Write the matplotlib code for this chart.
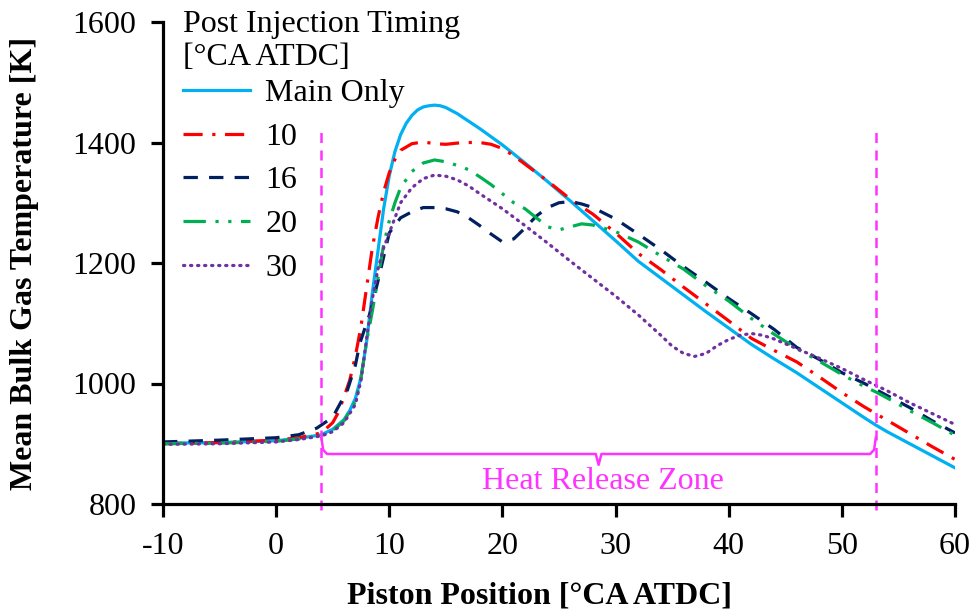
import matplotlib
matplotlib.use("Agg")
import matplotlib.pyplot as plt

plt.rcParams['font.family'] = ['Liberation Serif', 'DejaVu Serif']
plt.rcParams['axes.unicode_minus'] = False

# crank angle [deg ATDC] and mean bulk gas temperature [K]
main_x = [-10, -5, 0, 2, 4, 5, 6, 6.5, 7, 7.5, 8, 8.5, 9, 9.5, 10, 10.5, 11, 11.5, 12, 12.5, 13, 13.5, 14,
          14.5, 15, 16, 18, 20, 22, 24, 26, 28, 30, 32, 34, 36, 38, 40, 42, 44, 46, 48, 50, 52, 53, 54,
          56, 58, 60]
main_t = [901, 902, 905, 909, 915, 924, 940, 955, 975, 1010, 1070, 1150, 1220, 1290, 1345, 1385, 1413, 1432,
          1445, 1454, 1459, 1461, 1462, 1461, 1458, 1448, 1423, 1396, 1366, 1335, 1303, 1270, 1237, 1203,
          1175, 1147, 1119, 1092, 1065, 1041, 1018, 993, 968, 943, 931, 920, 900, 880, 860]

p10_x = [-10, -5, 0, 2, 4, 5, 5.5, 6, 6.5, 7, 7.5, 8, 8.5, 9, 9.5, 10, 10.5, 11, 12, 13, 14, 15, 16, 17,
         18, 19, 20, 21, 22, 24, 26, 28, 30, 32, 34, 36, 38, 40, 42, 44, 46, 48, 50, 52, 53, 54, 56, 58, 60]
p10_t = [900, 902, 906, 910, 918, 935, 952, 978, 1005, 1045, 1095, 1160, 1225, 1275, 1318, 1350, 1372, 1387,
         1398, 1401, 1398, 1397, 1399, 1400, 1400, 1397, 1390, 1378, 1364, 1336, 1306, 1281, 1250, 1216,
         1189, 1160, 1132, 1104, 1075, 1055, 1036, 1011, 985, 961, 950, 939, 917, 895, 874]

p16_x = [-10, -5, 0, 2, 3.6, 5, 6.3, 7, 7.4, 8.3, 9, 10, 11, 12, 13, 14, 15, 16, 17, 18, 19, 20, 21, 22,
         23, 24, 25, 26, 27, 28, 30, 32, 34, 36, 38, 40, 42, 44, 46, 48, 50, 52, 53, 54, 56, 58, 60]
p16_t = [903, 906, 910, 915, 926, 944, 989, 1030, 1067, 1117, 1170, 1250, 1275, 1285, 1292, 1292, 1290,
         1285, 1275, 1262, 1248, 1235, 1240, 1258, 1278, 1292, 1300, 1302, 1298, 1292, 1273, 1248, 1222,
         1194, 1168, 1141, 1116, 1090, 1060, 1040, 1018, 1000, 990, 980, 960, 938, 918]

p20_x = [-10, -5, 0, 2, 4, 5, 6, 7, 7.5, 8, 8.5, 9, 9.5, 10, 10.5, 11, 12, 13, 14, 15, 16, 17, 18, 19,
         20, 21, 22, 23, 24, 25, 26, 27, 28, 30, 32, 34, 36, 38, 40, 42, 44, 46, 48, 50, 52, 53, 54, 56, 58, 60]
p20_t = [900, 901, 904, 908, 914, 922, 938, 970, 1010, 1070, 1120, 1175, 1230, 1270, 1300, 1325, 1352,
         1366, 1371, 1368, 1362, 1355, 1343, 1330, 1315, 1300, 1290, 1275, 1260, 1255, 1260, 1265, 1263,
         1252, 1235, 1212, 1190, 1162, 1137, 1108, 1082, 1058, 1037, 1015, 995, 986, 976, 955, 935, 914]

p30_x = [-10, -5, 0, 2, 4, 5, 6, 7, 7.5, 8, 8.5, 9, 9.5, 10, 10.5, 11, 12, 13, 14, 15, 16, 17, 18, 20,
         22, 24, 26, 28, 30, 32, 34, 35, 36, 37, 38, 39, 40, 41, 42, 43, 44, 46, 48, 50, 52, 53, 54, 56, 58, 60]
p30_t = [899, 900, 903, 907, 913, 920, 935, 965, 1005, 1075, 1140, 1190, 1225, 1250, 1275, 1300, 1325,
         1340, 1346, 1344, 1338, 1328, 1315, 1290, 1262, 1233, 1203, 1174, 1145, 1114, 1080, 1062, 1050,
         1045, 1050, 1063, 1073, 1080, 1083, 1080, 1074, 1058, 1042, 1025, 1006, 997, 988, 968, 950, 932]

labels = ['Main Only', '10', '16', '20', '30']

# heat release zone markers
zone_start, zone_end = 4, 53
zone_top = 1425
brace_t = 883
magenta = '#FF33FF'
fs = 23

fig = plt.figure(figsize=(9.74, 6.11), dpi=100)
ax = fig.add_axes([163 / 974, 1 - 504 / 611, (955 - 163) / 974, (504 - 22) / 611])

lw = 2.3
ax.plot(main_x, main_t, color='#00B0F0', lw=lw, label=labels[0])
ax.plot(p10_x, p10_t, color='#FF0000', lw=lw, ls=(0, (6, 3, 1, 3)), label=labels[1])
ax.plot(p16_x, p16_t, color='#002060', lw=lw, ls=(0, (4.5, 3.5)), label=labels[2])
ax.plot(p20_x, p20_t, color='#00B050', lw=lw, ls=(0, (7, 3, 1, 3, 1, 3)), label=labels[3])
ax.plot(p30_x, p30_t, color='#7030A0', lw=lw, ls=(0, (0.4, 1.8)), dash_capstyle='round', label=labels[4])

# zone boundaries
for xv in (zone_start, zone_end):
    ax.plot([xv, xv], [790, zone_top], color=magenta, lw=1.8, ls=(0, (4, 3)), clip_on=False)

# bracket
mid = (zone_start + zone_end) / 2
bx = [zone_start, zone_start + 0.15, zone_start + 0.5, mid - 0.25, mid, mid + 0.25,
      zone_end - 0.5, zone_end - 0.15, zone_end]
bt = [910, 890, brace_t, brace_t, brace_t - 18, brace_t, brace_t, 890, 910]
ax.plot(bx, bt, color=magenta, lw=1.8)
ax.text(mid + 0.4, 837, 'Heat Release Zone', color=magenta, fontsize=fs, ha='center', va='center')

ax.set_xlim(-10, 60)
ax.set_ylim(800, 1600)
ax.set_xticks(range(-10, 61, 10))
ax.set_yticks(range(800, 1601, 200))
for s in ('top', 'right'):
    ax.spines[s].set_visible(False)
for s in ('left', 'bottom'):
    ax.spines[s].set_linewidth(2.3)
ax.tick_params(direction='out', length=9, width=2.3, labelsize=fs)
ax.tick_params(axis='x', pad=11)
ax.tick_params(axis='y', pad=10)

ax.set_xlabel('Piston Position [°CA ATDC]', fontsize=fs, fontweight='bold', labelpad=15)
ax.xaxis.label.set_x(0.475)
ax.set_ylabel('Mean Bulk Gas Temperature [K]', fontsize=fs, fontweight='bold', labelpad=24)

leg = ax.legend(title='Post Injection Timing\n[°CA ATDC]', loc='upper left',
                bbox_to_anchor=(164 / 974, 1.015), bbox_transform=fig.transFigure,
                frameon=False, fontsize=fs, title_fontsize=fs, alignment='left',
                handlelength=2.1, handletextpad=0.47, labelspacing=0.45, borderpad=0.1)
leg._legend_box.sep = 4.5  # tighter gap between title and entries

fig.savefig('out.png', dpi=100)
